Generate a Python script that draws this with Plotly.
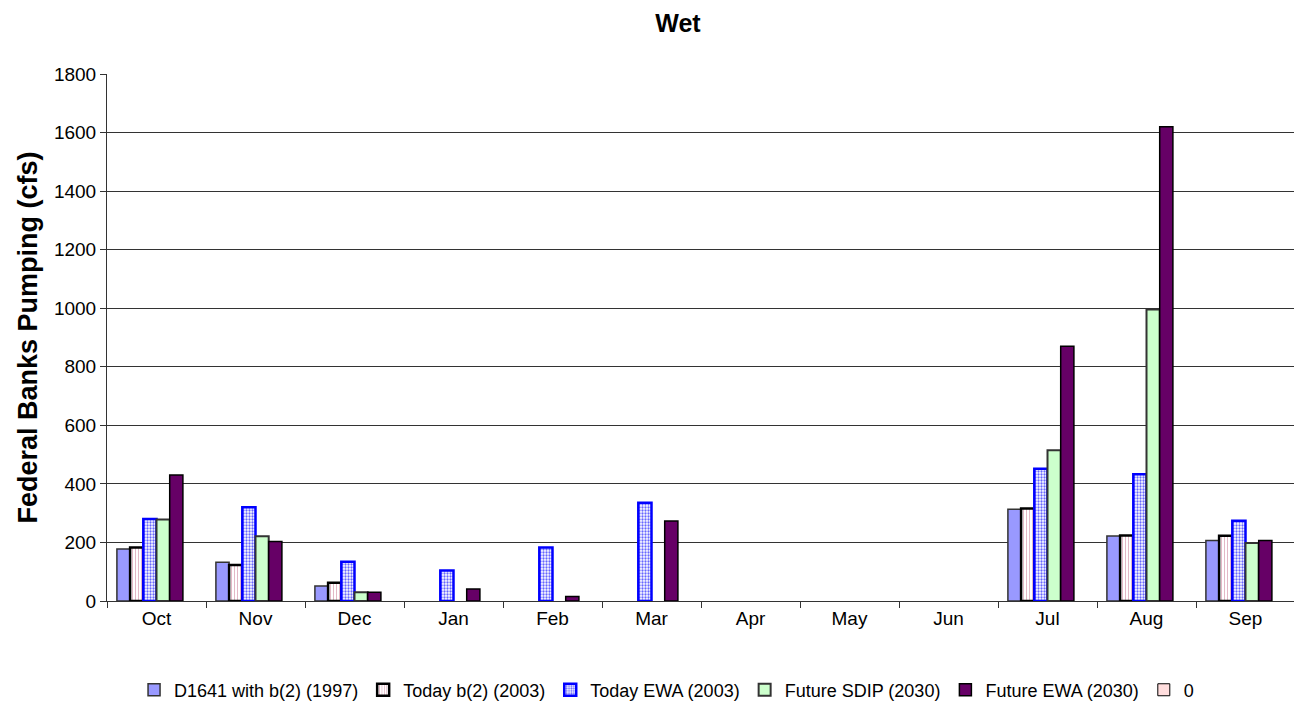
import plotly.graph_objects as go

months = ["Oct", "Nov", "Dec", "Jan", "Feb", "Mar", "Apr", "May", "Jun", "Jul", "Aug", "Sep"]

# None = no bar drawn for that month
d1641_1997 = [178, 132, 51, None, None, None, None, None, None, 313, 222, 207]
today_b2_2003 = [183, 123, 62, None, None, None, None, None, None, 316, 224, 223]
today_ewa_2003 = [280, 320, 134, 104, 183, 336, None, None, None, 452, 433, 274]
future_sdip_2030 = [278, 221, 30, None, None, None, None, None, None, 515, 996, 198]
future_ewa_2030 = [430, 203, 30, 41, 15, 273, None, None, None, 870, 1620, 207]
zero_series = [None] * 12

font = "Arial, Liberation Sans, sans-serif"

# the page body has an 8px margin, so the figure is drawn 8px smaller
W, H = 1294, 696

fig = go.Figure()

fig.add_trace(go.Bar(
    x=months, y=d1641_1997, name="D1641 with b(2) (1997)",
    marker=dict(color="#9999FF", line=dict(color="#333333", width=1.5))))
fig.add_trace(go.Bar(
    x=months, y=today_b2_2003, name="Today b(2) (2003)",
    marker=dict(color="white", line=dict(color="black", width=2.5),
                pattern=dict(shape="|", fgcolor="#E0B0C0", bgcolor="white", size=3, solidity=0.3))))
fig.add_trace(go.Bar(
    x=months, y=today_ewa_2003, name="Today EWA (2003)",
    marker=dict(color="white", line=dict(color="#0000FF", width=2.5),
                pattern=dict(shape=".", fgcolor="#6666FF", bgcolor="white", size=3, solidity=0.45))))
fig.add_trace(go.Bar(
    x=months, y=future_sdip_2030, name="Future SDIP (2030)",
    marker=dict(color="#CCFFCC", line=dict(color="#333333", width=2))))
fig.add_trace(go.Bar(
    x=months, y=future_ewa_2030, name="Future EWA (2030)",
    marker=dict(color="#660066", line=dict(color="black", width=1.5))))
fig.add_trace(go.Bar(
    x=months, y=zero_series, name="0",
    marker=dict(color="#FFDDDD", line=dict(color="black", width=1))))

fig.update_layout(
    width=W, height=H,
    template=None,
    paper_bgcolor="white", plot_bgcolor="white",
    font=dict(family=font, size=19, color="black"),
    title=dict(text="<b>Wet</b>", x=670 / W, xanchor="center", y=1 - 15 / H, yanchor="middle",
               font=dict(size=25, family=font, color="black")),
    margin=dict(l=99, r=7, t=66, b=103, autoexpand=False),
    barmode="group", bargap=0.2, bargroupgap=0,
    showlegend=True,
    legend=dict(orientation="h", x=0.471, xanchor="center", y=-0.169, yanchor="middle",
                font=dict(size=18, family=font), itemwidth=30, traceorder="normal"),
)

fig.update_yaxes(
    range=[0, 1800], dtick=200, showgrid=True, gridcolor="#333333", gridwidth=1,
    showline=True, linecolor="#333333", linewidth=1, ticks="outside", ticklen=6, tickcolor="#333333",
    title=dict(text="<b>Federal Banks Pumping (cfs)</b>", font=dict(size=27, family=font), standoff=8),
    tickfont=dict(size=19), zeroline=False, automargin=False)
fig.update_xaxes(
    showline=True, linecolor="#333333", linewidth=1, ticks="outside", ticklen=6, tickcolor="#333333",
    tickson="boundaries", tickfont=dict(size=19), automargin=False)

# right edge border of plot area
fig.add_shape(type="line", xref="paper", yref="paper", x0=1, x1=1, y0=0, y1=1,
              line=dict(color="#999999", width=2))

fig.write_html("out.html")
